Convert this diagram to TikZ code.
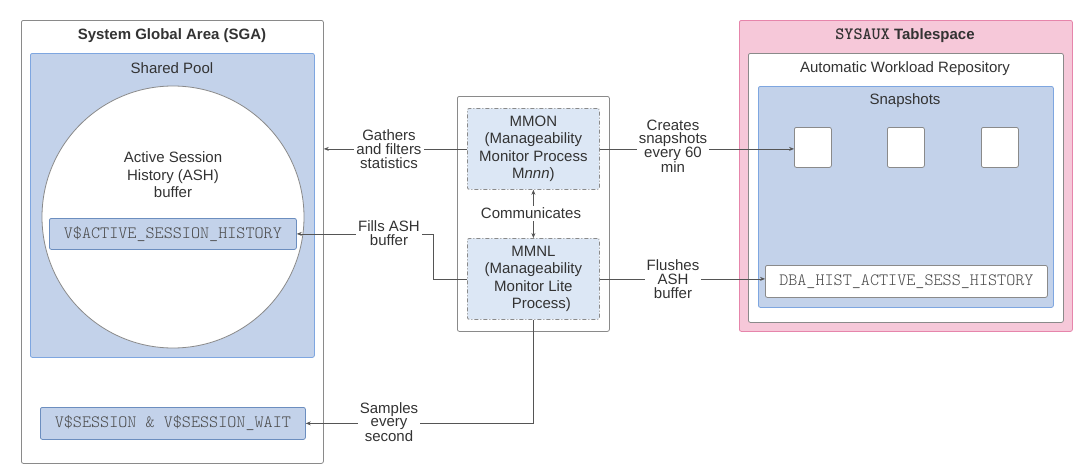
\documentclass[tikz,border=0pt]{standalone}
\usepackage{fontspec}
\setmainfont{Liberation Sans}
\setmonofont{Latin Modern Mono Light}
\usetikzlibrary{arrows.meta}
\definecolor{txt}{HTML}{333333}
\definecolor{monotxt}{HTML}{4A4A4A}
\definecolor{bluefill}{HTML}{C3D2EA}
\definecolor{blueline}{HTML}{7EA6E0}
\definecolor{bluedark}{HTML}{6C8EBF}
\definecolor{pinkfill}{HTML}{F6C8D9}
\definecolor{pinkline}{HTML}{E685AB}
\definecolor{procfill}{HTML}{DCE7F5}
\definecolor{grayline}{HTML}{8A8A8A}
\definecolor{edgecol}{HTML}{555555}
\begin{document}
\begin{tikzpicture}[x=1pt,y=-1pt,
  font=\fontsize{15}{17.5}\selectfont, text=txt,
  box/.style={draw, rounded corners=2pt, anchor=north west, inner sep=0pt, line width=0.8pt},
  container/.style={box, draw=grayline, fill=white},
  bluebox/.style={box, draw=blueline, fill=bluefill},
  pinkbox/.style={box, draw=pinkline, fill=pinkfill},
  viewbox/.style={box, draw=bluedark, fill=bluefill, text=monotxt, font=\fontsize{17.3}{17.5}\selectfont\ttfamily},
  whiteview/.style={box, draw=grayline, fill=white, text=monotxt, font=\fontsize{17.3}{17.5}\selectfont\ttfamily},
  snapbox/.style={box, draw=grayline, fill=white, minimum width=37, minimum height=40},
  procbox/.style={box, draw=grayline, fill=procfill, dash pattern=on 4pt off 2pt on 1pt off 2pt, align=center, minimum width=132, minimum height=81},
  title/.style={inner sep=0pt, align=center},
  lbl/.style={fill=white, align=center, inner sep=2pt, font=\fontsize{15}{13.7}\selectfont},
  conn/.style={draw=edgecol, line width=0.7pt, -{Stealth[length=5pt,width=4pt]}},
  conn2/.style={draw=edgecol, line width=0.7pt, {Stealth[length=5pt,width=4pt]}-{Stealth[length=5pt,width=4pt]}}
]
\useasboundingbox[fill=white] (0,0) rectangle (1080,474);

% ---- SGA ----
\node[container, minimum width=302, minimum height=443] (sga) at (21,20) {};
\node[title, font=\fontsize{15}{17.5}\selectfont\bfseries] (sgat) at (172,36) {System Global Area (SGA)};
\node[bluebox, minimum width=284, minimum height=304] (pool) at (30,53) {};
\node[title] (poolt) at (172,68) {Shared Pool};
\node[circle, draw=grayline, fill=white, line width=0.8pt, minimum size=262, inner sep=0pt] (ash) at (173,217) {};
\node[title] (asht) at (173,175) {Active Session\\History (ASH)\\buffer};
\node[viewbox, minimum width=247, minimum height=31] (vash) at (49,218) {V\$ACTIVE\_SESSION\_HISTORY};
\node[viewbox, minimum width=265, minimum height=32] (vsess) at (40,407) {V\$SESSION \& V\$SESSION\_WAIT};

% ---- central processes ----
\node[container, minimum width=152, minimum height=235] (proc) at (457,96) {};
\node[procbox] (mmon) at (467,108) {MMON\\(Manageability\\Monitor Process\\M\textit{nnn})};
\node[procbox] (mmnl) at (467,238) {MMNL\\(Manageability\\Monitor Lite\hspace{22pt}\\\hspace{16pt}Process)};

% ---- SYSAUX ----
\node[pinkbox, minimum width=333, minimum height=311] (sysaux) at (739,20) {};
\node[title, font=\fontsize{15}{17.5}\selectfont\bfseries] (sysauxt) at (905,36) {{\fontsize{17.3}{17.5}\selectfont\ttfamily\bfseries SYSAUX} Tablespace};
\node[container, minimum width=315, minimum height=269] (awr) at (748,53) {};
\node[title] (awrt) at (905,69) {Automatic Workload Repository};
\node[bluebox, minimum width=295, minimum height=221] (snaps) at (758,86) {};
\node[title] (snapst) at (905,101) {Snapshots};
\node[snapbox] (snap1) at (794,127) {};
\node[snapbox] (snap2) at (887,127) {};
\node[snapbox] (snap3) at (981,127) {};
\node[whiteview, minimum width=282, minimum height=32] (dba) at (765,265) {DBA\_HIST\_ACTIVE\_SESS\_HISTORY};

% ---- connectors ----
\coordinate (fbend) at (433,0);
\draw[conn] (mmon.west) -- (sga.east |- mmon.west);
\node[lbl] (lgather) at (389,149) {Gathers\\and filters\\statistics};

\draw[conn] (mmnl.west) -| (fbend |- vash.east) -- (vash.east);
\node[lbl] (lfill) at (389,233) {Fills ASH\\buffer};

\draw[conn] (mmnl.south) |- (vsess.east);
\node[lbl] (lsample) at (389,422) {Samples\\every\\second};

\draw[conn] (mmon.east) -- (mmon.east -| snap1.west);
\node[lbl] (lcreate) at (673,146) {Creates\\snapshots\\every 60\\min};

\draw[conn] (mmnl.east) -- (mmnl.east -| dba.west);
\node[lbl] (lflush) at (673,279) {Flushes\\ASH\\buffer};

\draw[conn2] (mmon.south) -- (mmnl.north);
\node[lbl] (lcomm) at (531,213.5) {Communicates};
\end{tikzpicture}
\end{document}
